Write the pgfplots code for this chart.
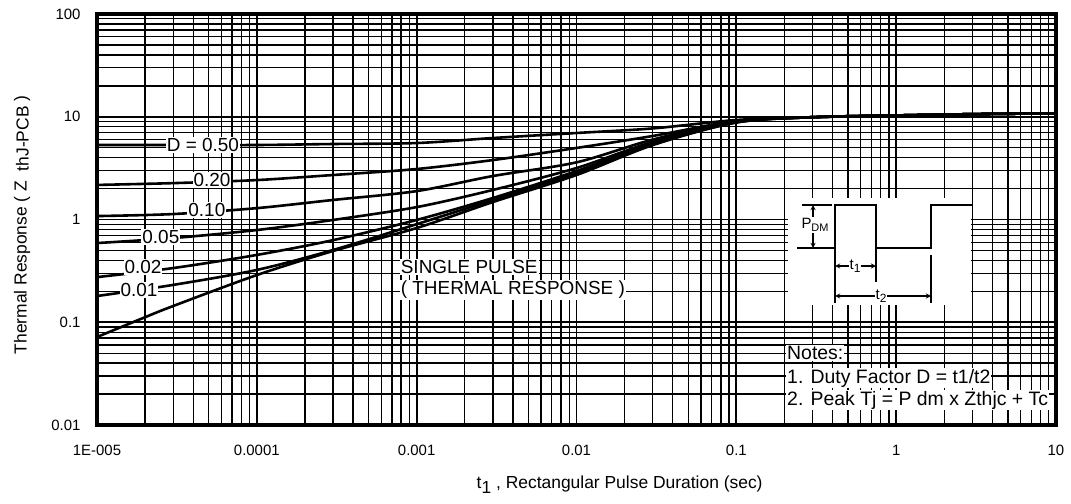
\documentclass[border=0pt]{standalone}
\usepackage{fontspec}
\setmainfont{Liberation Sans}
\usepackage{pgfplots}
\pgfplotsset{compat=1.18}

\begin{document}
\begin{tikzpicture}
\begin{axis}[
    scale only axis,
    width=959bp, height=411bp,
    xmode=log, ymode=log,
    xmin=1e-5, xmax=10, ymin=0.01, ymax=100,
    grid=both,
    major grid style={black, line width=1.9bp},
    minor grid style={black, line width=1.35bp},
    axis line style={black, line width=3.5bp},
    tick style={draw=none},
    xtick={1e-5,1e-4,1e-3,1e-2,1e-1,1,10},
    xticklabels={1E-005,0.0001,0.001,0.01,0.1,1,10},
    ytick={0.01,0.1,1,10,100},
    yticklabels={0.01,0.1,1,10,100},
    tick label style={font=\fontsize{15}{15}\selectfont},
    xticklabel style={yshift=-17bp},
    yticklabel style={xshift=-13bp},
    xlabel={t\raisebox{-5bp}{1} , Rectangular Pulse Duration (sec)},
    ylabel={Thermal Response ( Z\ \ \raisebox{-2bp}{thJ-PCB} )},
    label style={font=\fontsize{17.5}{17.5}\selectfont},
    xlabel style={at={(axis description cs:0.545,0)}, anchor=center, yshift=-60bp},
    ylabel style={at={(axis description cs:-0.078,0.487)}, anchor=center},
    curve/.style={black, line width=2.6bp, smooth, tension=0.5, no markers},
    clip=true,
]
% D = 0.50
\addplot[curve] coordinates {
 (1e-5,5.31) (3e-5,5.31) (1e-4,5.31) (3e-4,5.43) (1e-3,5.55) (3e-3,6.21)
 (1e-2,6.95) (3e-2,7.7) (0.1,9.3) (0.3,9.9) (1,10.3) (3,10.6) (10,10.8)
};
% 0.20
\addplot[curve] coordinates {
 (1e-5,2.17) (3e-5,2.26) (1e-4,2.42) (3e-4,2.71) (1e-3,3.10) (3e-3,3.79)
 (1e-2,4.97) (3e-2,6.5) (0.1,9.1) (0.3,9.9) (1,10.3) (3,10.6) (10,10.8)
};
% 0.10
\addplot[curve] coordinates {
 (1e-5,1.08) (3e-5,1.13) (1e-4,1.29) (3e-4,1.55) (1e-3,1.89) (3e-3,2.65)
 (1e-2,3.6) (3e-2,6.0) (0.1,9.0) (0.3,9.9) (1,10.3) (3,10.6) (10,10.8)
};
% 0.05
\addplot[curve] coordinates {
 (1e-5,0.59) (3e-5,0.66) (1e-4,0.79) (3e-4,0.99) (1e-3,1.32) (3e-3,1.94)
 (1e-2,3.17) (3e-2,5.7) (0.1,8.9) (0.3,9.9) (1,10.3) (3,10.6) (10,10.8)
};
% 0.02
\addplot[curve] coordinates {
 (1e-5,0.275) (3e-5,0.337) (1e-4,0.452) (3e-4,0.63) (1e-3,0.99) (3e-3,1.62)
 (1e-2,2.96) (3e-2,5.5) (0.1,8.9) (0.3,9.9) (1,10.3) (3,10.6) (10,10.8)
};
% 0.01
\addplot[curve] coordinates {
 (1e-5,0.18) (3e-5,0.231) (1e-4,0.323) (3e-4,0.505) (1e-3,0.90) (3e-3,1.55)
 (1e-2,2.84) (3e-2,5.4) (0.1,8.8) (0.3,9.9) (1,10.3) (3,10.6) (10,10.8)
};
% single pulse
\addplot[curve] coordinates {
 (1e-5,0.0718) (2e-5,0.112) (3e-5,0.144) (1e-4,0.288) (3e-4,0.494) (1e-3,0.826)
 (3e-3,1.48) (1e-2,2.71) (3e-2,5.3) (0.1,8.8) (0.3,9.9) (1,10.3) (3,10.6) (10,10.8)
};

% curve labels
\tikzset{lbl/.style={fill=white, inner sep=1bp, font=\fontsize{19}{19}\selectfont}}
\node[lbl] at (axis cs:4.6e-5,5.31) {D = 0.50};
\node[lbl] at (axis cs:5.24e-5,2.42) {0.20};
\node[lbl] at (axis cs:4.87e-5,1.24) {0.10};
\node[lbl] at (axis cs:2.51e-5,0.676) {0.05};
\node[lbl] at (axis cs:1.94e-5,0.345) {0.02};
\node[lbl] at (axis cs:1.83e-5,0.206) {0.01};
\node[lbl, anchor=west] at (axis cs:7.83e-4,0.345) {SINGLE PULSE};
\node[lbl, anchor=west] at (axis cs:7.83e-4,0.206) {( THERMAL RESPONSE )};
\end{axis}

% pulse inset (positions in bp from the axis' lower left corner)
\fill[white] (691bp,120bp) rectangle (874bp,227bp);
\begin{scope}[line width=1.3bp, black]
  \draw (700bp,177bp) -- (738bp,177bp) -- (738bp,220bp) -- (779bp,220bp) -- (779bp,177bp)
        -- (834bp,177bp) -- (834bp,220bp) -- (875bp,220bp);
  \draw (705bp,220bp) -- (735bp,220bp);
  \draw[<->, >=stealth] (716bp,220bp) -- (716bp,177bp);
  \draw (738bp,177bp) -- (738bp,122bp);
  \draw (779bp,177bp) -- (779bp,143bp);
  \draw (834bp,170bp) -- (834bp,122bp);
  \draw[<->, >=stealth] (738bp,159bp) -- (779bp,159bp);
  \draw[<->, >=stealth] (738bp,129bp) -- (834bp,129bp);
  \node[fill=white, inner sep=1bp, font=\fontsize{15}{15}\selectfont] at (718bp,200bp)
    {P\raisebox{-3bp}{\fontsize{11}{11}\selectfont DM}};
  \node[fill=white, inner sep=1bp, font=\fontsize{15}{15}\selectfont] at (758bp,159bp)
    {t\raisebox{-3bp}{\fontsize{12}{12}\selectfont 1}};
  \node[fill=white, inner sep=1bp, font=\fontsize{15}{15}\selectfont] at (784bp,129bp)
    {t\raisebox{-3bp}{\fontsize{12}{12}\selectfont 2}};
\end{scope}

% notes
\begin{scope}[every node/.style={fill=white, inner sep=1bp, anchor=west, font=\fontsize{19.5}{19.5}\selectfont}]
  \node at (689bp,72bp) {Notes:};
  \node at (689bp,47bp) {1. Duty Factor D = t1/t2};
  \node at (689bp,25bp) {2. Peak Tj = P dm x Zthjc + Tc};
\end{scope}

\path[use as bounding box] (-97bp,-79bp) rectangle (974bp,425bp);
\end{tikzpicture}
\end{document}
